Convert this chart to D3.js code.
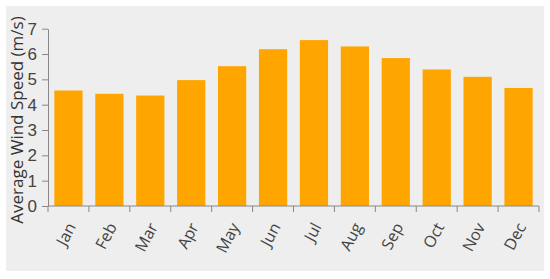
<!DOCTYPE html>
<html>
<head>
<meta charset="utf-8">
<script src="https://cdn.jsdelivr.net/npm/d3@7"></script>
<style>
  body { margin: 0; background: #fff; }
  svg { display: block; font-family: "Open Sans", "Noto Sans", sans-serif; }
</style>
</head>
<body>
<div id="chart"></div>
<script>
// Monthly average wind speed
const months = ['Jan', 'Feb', 'Mar', 'Apr', 'May', 'Jun', 'Jul', 'Aug', 'Sep', 'Oct', 'Nov', 'Dec'];
const windSpeed = [4.56, 4.43, 4.36, 4.97, 5.52, 6.19, 6.55, 6.30, 5.84, 5.39, 5.10, 4.66];
const yTicks = [0, 1, 2, 3, 4, 5, 6, 7];
const yTitle = 'Average Wind Speed (m/s)';

const W = 550, H = 279;
const plot = { left: 48, right: 539, top: 28.7, bottom: 206 };

const svg = d3.select('#chart').append('svg')
  .attr('width', W)
  .attr('height', H);

// grey panel
svg.append('rect')
  .attr('x', 6).attr('y', 6)
  .attr('width', 538).attr('height', 265)
  .attr('fill', '#eeeeee');

const x = d3.scaleBand()
  .domain(months)
  .range([plot.left, plot.right])
  .paddingInner(0.31)
  .paddingOuter(0.155);

const y = d3.scaleLinear()
  .domain([0, 7])
  .range([plot.bottom, plot.top]);

// bars
svg.selectAll('.bar')
  .data(months)
  .enter()
  .append('rect')
  .attr('class', 'bar')
  .attr('x', d => x(d))
  .attr('y', (d, i) => y(windSpeed[i]))
  .attr('width', x.bandwidth())
  .attr('height', (d, i) => plot.bottom - y(windSpeed[i]))
  .attr('fill', '#ffa500');

// y axis
const yAxis = svg.append('g')
  .attr('transform', `translate(${plot.left},0)`)
  .call(d3.axisLeft(y)
    .tickValues(yTicks)
    .tickFormat(d3.format('d'))
    .tickSize(6)
    .tickPadding(5)
    .tickSizeOuter(0));

yAxis.selectAll('text')
  .style('font-size', '17px')
  .attr('fill', '#444');
yAxis.selectAll('path, line').attr('stroke', '#888');

// x axis, ticks at band edges
const edges = months.map(m => x(m) - x.step() * x.paddingInner() / 2);
edges.push(plot.right);

const xAxis = svg.append('g')
  .attr('transform', `translate(0,${plot.bottom})`);

xAxis.append('line')
  .attr('x1', plot.left).attr('x2', plot.right)
  .attr('stroke', '#888');

xAxis.selectAll('.edge')
  .data(edges)
  .enter()
  .append('line')
  .attr('class', 'edge')
  .attr('x1', d => d).attr('x2', d => d)
  .attr('y1', 0).attr('y2', 6)
  .attr('stroke', '#888');

xAxis.selectAll('.lbl')
  .data(months)
  .enter()
  .append('text')
  .attr('class', 'lbl')
  .attr('transform', d => `translate(${x(d) + x.bandwidth() / 2 + 3},${18}) rotate(-62)`)
  .attr('text-anchor', 'end')
  .attr('dy', '0.35em')
  .style('font-size', '16px')
  .attr('fill', '#444')
  .text(d => d);

// y axis title
svg.append('text')
  .attr('transform', `translate(23,120) rotate(-90)`)
  .attr('text-anchor', 'middle')
  .style('font-size', '17px')
  .attr('fill', '#333')
  .text(yTitle);
</script>
</body>
</html>
